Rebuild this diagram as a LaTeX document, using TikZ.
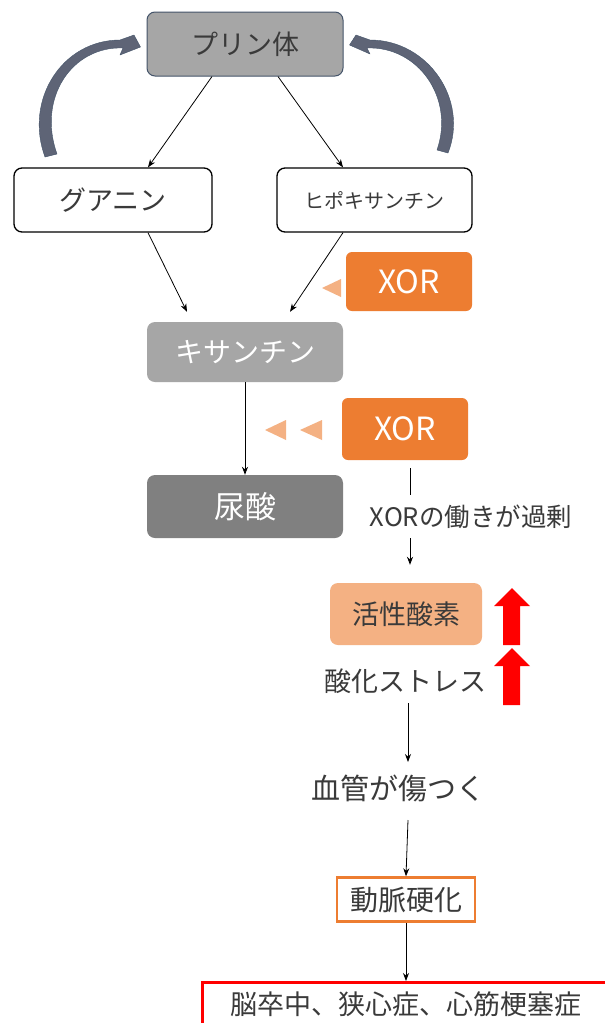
\documentclass[tikz,border=0pt]{standalone}
\usepackage{fontspec}
\newfontfamily\cjk{Noto Sans CJK JP}
\usetikzlibrary{arrows.meta,calc}
\definecolor{boxgray}{HTML}{A6A6A6}
\definecolor{darkgray2}{HTML}{808080}
\definecolor{slate}{HTML}{44546A}
\definecolor{curvecol}{HTML}{5E6476}
\definecolor{xorange}{HTML}{ED7D31}
\definecolor{lightor}{HTML}{F4B183}
\definecolor{txt}{HTML}{3A3A3A}
\tikzset{
  base/.style={font=\cjk\fontsize{27}{31}\selectfont, text=txt, inner sep=0pt, align=center},
  rbox/.style={base, rounded corners=8pt, minimum width=#1},
  conn/.style={draw=black, line width=0.8pt, -{Stealth[length=8pt,width=6pt]}},
  plain/.style={draw=black, line width=0.8pt},
  curv/.style={fill=curvecol, draw=slate, line width=0.4pt, line join=round},
  tri/.style={fill=lightor, draw=none},
  redup/.style={fill=red, draw=none},
}
\begin{document}
\begin{tikzpicture}[x=1pt,y=-1pt]
\useasboundingbox (0,0) rectangle (605,1023);
\fill[white] (0,0) rectangle (605,1023);
% top boxes
\node[rbox=196pt, minimum height=64pt, fill=boxgray, draw=slate, line width=1pt] (purine) at (245,44) {プリン体};
\node[rbox=198pt, minimum height=64pt, fill=white, draw=black, line width=1.3pt] (gua) at (113,200) {グアニン};
\node[rbox=195pt, minimum height=64pt, fill=white, draw=black, line width=1.3pt, font=\cjk\fontsize{20}{24}\selectfont] (hypo) at (374.5,200) {ヒポキサンチン};
\node[rbox=196pt, minimum height=60pt, fill=boxgray, text=white, font=\cjk\fontsize{28}{32}\selectfont] (xan) at (245,352) {キサンチン};
\node[rbox=196pt, minimum height=63pt, fill=darkgray2, text=white, font=\cjk\fontsize{31}{35}\selectfont] (uric) at (245,506.5) {尿酸};
\node[rbox=126pt, minimum height=59pt, fill=xorange, text=white, rounded corners=6pt, font=\cjk\fontsize{32}{36}\selectfont] (xor1) at (409,281.5) {XOR};
\node[rbox=126pt, minimum height=62pt, fill=xorange, text=white, rounded corners=6pt, font=\cjk\fontsize{32}{36}\selectfont] (xor2) at (405,429) {XOR};
% curved swoosh arrows (tapered)
\coordinate (cl0) at (45,157);
\coordinate (cr0) at (448,153);
\fill[curv] (cl0) .. controls (24,100) and (62,40) .. (120,40)
  -- (134,35) -- ($(purine.west)+(-6,3)$) -- (120,55) -- (123,48)
  .. controls (72,46) and (37,98) .. (57,154) -- cycle;
\fill[curv] (cr0) .. controls (469,100) and (428,40) .. (370,40)
  -- (356,35) -- ($(purine.east)+(6,1)$) -- (370,54) -- (367,48)
  .. controls (418,46) and (455,98) .. (437,150) -- cycle;
% arrows
\draw[conn] ($(purine.south)+(-33,0)$) -- ($(gua.north)+(35,0)$);
\draw[conn] ($(purine.south)+(33,0)$) -- ($(hypo.north)+(-31.5,0)$);
\draw[conn] ($(gua.south)+(35,0)$) -- ($(xan.north)+(-58,-10)$);
\draw[conn] ($(hypo.south)+(-31.5,0)$) -- ($(xan.north)+(45,-10)$);
\draw[conn] (xan.south) -- (uric.north);
% triangles
\fill[tri] (322,288) -- (341,279) -- (341,297) -- cycle;
\fill[tri] (265,430) -- (286,420) -- (286,440) -- cycle;
\fill[tri] (300,430) -- (322,420) -- (322,440) -- cycle;
% XOR excess
\node[base, font=\cjk\fontsize{25.5}{29}\selectfont] (excess) at (471,517) {XORの働きが過剰};
\coordinate (l0) at (410,495);
\draw[plain] ($(xor2.south)+(5,8)$) -- (l0);
\node[rbox=152pt, minimum height=62pt, fill=lightor, rounded corners=8pt] (ros) at (406,614) {活性酸素};
\draw[conn] ($(excess.center)+(-61,21)$) -- ($(ros.north)+(4,-18)$);
\node[base] (stress) at (405,681) {酸化ストレス};
\node[base, font=\cjk\fontsize{29}{33}\selectfont] (vessel) at (398,788) {血管が傷つく};
\node[base, draw=xorange, line width=2.5pt, minimum width=138pt, minimum height=44pt, fill=white, font=\cjk\fontsize{28}{32}\selectfont] (ath) at (406,899.5) {動脈硬化};
\node[base, draw=red, line width=3pt, minimum width=420pt, minimum height=44pt, anchor=north west, fill=white] (dis) at (201,981) {脳卒中、狭心症、心筋梗塞症\hspace*{14pt}};
\draw[conn] ($(stress.center)+(3,22)$) -- ($(vessel.center)+(10,-26)$);
\draw[conn] ($(vessel.center)+(10,32)$) -- (ath.north);
\draw[conn] (ath.south) -- (dis.north -| ath.south);
% red up arrows
\fill[redup] (512,588) -- (530,606) -- (520,606) -- (520,645) -- (503,645) -- (503,606) -- (494,606) -- cycle;
\fill[redup] (512,648) -- (530,666) -- (520,666) -- (520,705) -- (503,705) -- (503,666) -- (494,666) -- cycle;
\end{tikzpicture}
\end{document}
